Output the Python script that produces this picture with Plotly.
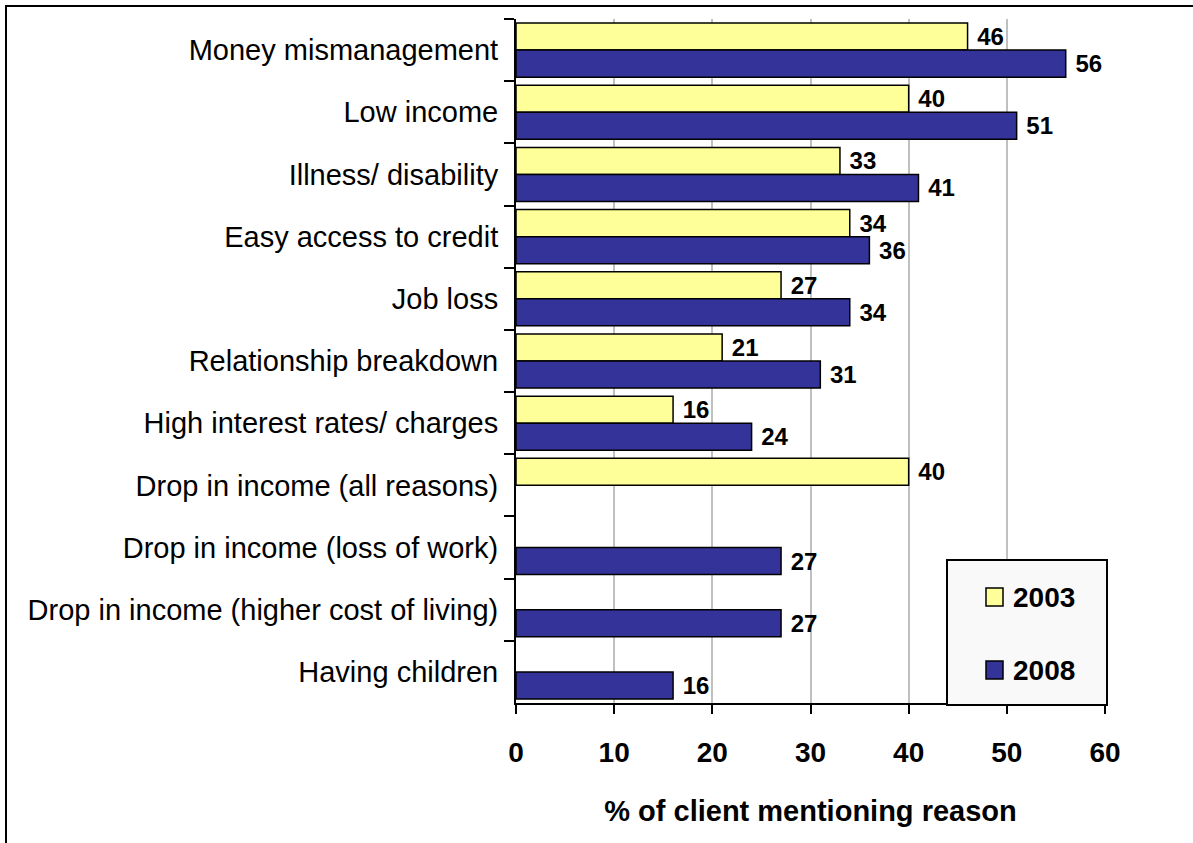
import plotly.graph_objects as go

# Reasons for debt, in display order (top to bottom)
reasons = [
    "Money mismanagement",
    "Low income",
    "Illness/ disability",
    "Easy access to credit",
    "Job loss",
    "Relationship breakdown",
    "High interest rates/ charges",
    "Drop in income (all reasons)",
    "Drop in income (loss of work)",
    "Drop in income (higher cost of living)",
    "Having children",
]
pct_2003 = [46, 40, 33, 34, 27, 21, 16, 40, None, None, None]
pct_2008 = [56, 51, 41, 36, 34, 31, 24, None, 27, 27, 16]
x_ticks = [0, 10, 20, 30, 40, 50, 60]

YELLOW = "#FFFF99"
BLUE = "#333399"
FONT = "Liberation Sans, Arial, sans-serif"

W, H = 1193, 843
ML, MR, MT, MB = 516, 88, 19, 140
PW, PH = W - ML - MR, H - MT - MB


def px_x(p):
    return (p - ML) / PW


def px_y(p):
    return (H - MB - p) / PH


def labels(vals):
    return ["\u00a0" + str(v) if v is not None else "" for v in vals]


fig = go.Figure()
for name, vals, color in [("2003", pct_2003, YELLOW), ("2008", pct_2008, BLUE)]:
    fig.add_trace(go.Bar(
        name=name,
        y=reasons,
        x=vals,
        orientation="h",
        marker=dict(color=color, line=dict(color="black", width=1.5)),
        text=labels(vals),
        textposition="outside",
        constraintext="none",
        cliponaxis=False,
        textfont=dict(family=FONT, size=24, color="black", weight="bold"),
        showlegend=False,
    ))

fig.update_layout(
    width=W, height=H,
    margin=dict(l=ML, r=MR, t=MT, b=MB, pad=0),
    paper_bgcolor="white",
    plot_bgcolor="white",
    barmode="group",
    bargap=0.13,
    bargroupgap=0,
    font=dict(family=FONT, color="black"),
)

fig.update_xaxes(
    range=[0, 60],
    tickvals=x_ticks,
    ticktext=[str(t) for t in x_ticks],
    showgrid=True,
    gridcolor="#c0c0c0",
    gridwidth=1.5,
    zeroline=False,
    showline=True,
    linecolor="black",
    linewidth=2,
    ticks="outside",
    ticklen=9,
    tickwidth=2,
    tickcolor="black",
    ticklabelstandoff=14,
    tickfont=dict(family=FONT, size=28, color="black", weight="bold"),
    title=dict(text="% of client mentioning reason",
               font=dict(family=FONT, size=29, color="black", weight="bold"),
               standoff=34),
)

fig.update_yaxes(
    categoryorder="array",
    categoryarray=reasons,
    autorange="reversed",
    showline=True,
    linecolor="black",
    linewidth=2,
    ticks="outside",
    tickson="boundaries",
    ticklen=10,
    tickwidth=2,
    tickcolor="black",
    ticklabelstandoff=10,
    showgrid=False,
    tickfont=dict(family=FONT, size=29, color="black"),
)

shapes = [
    # outer frame around the chart (open on the right and bottom)
    dict(type="rect", xref="paper", yref="paper",
         x0=px_x(6), x1=px_x(1260), y0=px_y(6), y1=px_y(900),
         line=dict(color="black", width=2), fillcolor="rgba(0,0,0,0)", layer="above"),
    # legend box
    dict(type="rect", xref="paper", yref="paper",
         x0=px_x(947), x1=px_x(1107), y0=px_y(560), y1=px_y(705),
         line=dict(color="black", width=2), fillcolor="#f9f9f9", layer="above"),
]
annotations = []
for name, color, cy in [("2003", YELLOW, 597), ("2008", BLUE, 670)]:
    shapes.append(dict(type="rect", xref="paper", yref="paper",
                       x0=px_x(986), x1=px_x(1003), y0=px_y(cy - 9), y1=px_y(cy + 9),
                       line=dict(color="black", width=1.5), fillcolor=color, layer="above"))
    annotations.append(dict(xref="paper", yref="paper", x=px_x(1011), y=px_y(cy),
                            xanchor="left", yanchor="middle", showarrow=False,
                            text=name,
                            font=dict(family=FONT, size=28, color="black", weight="bold")))

fig.update_layout(shapes=shapes, annotations=annotations)

fig.write_html("out.html")
